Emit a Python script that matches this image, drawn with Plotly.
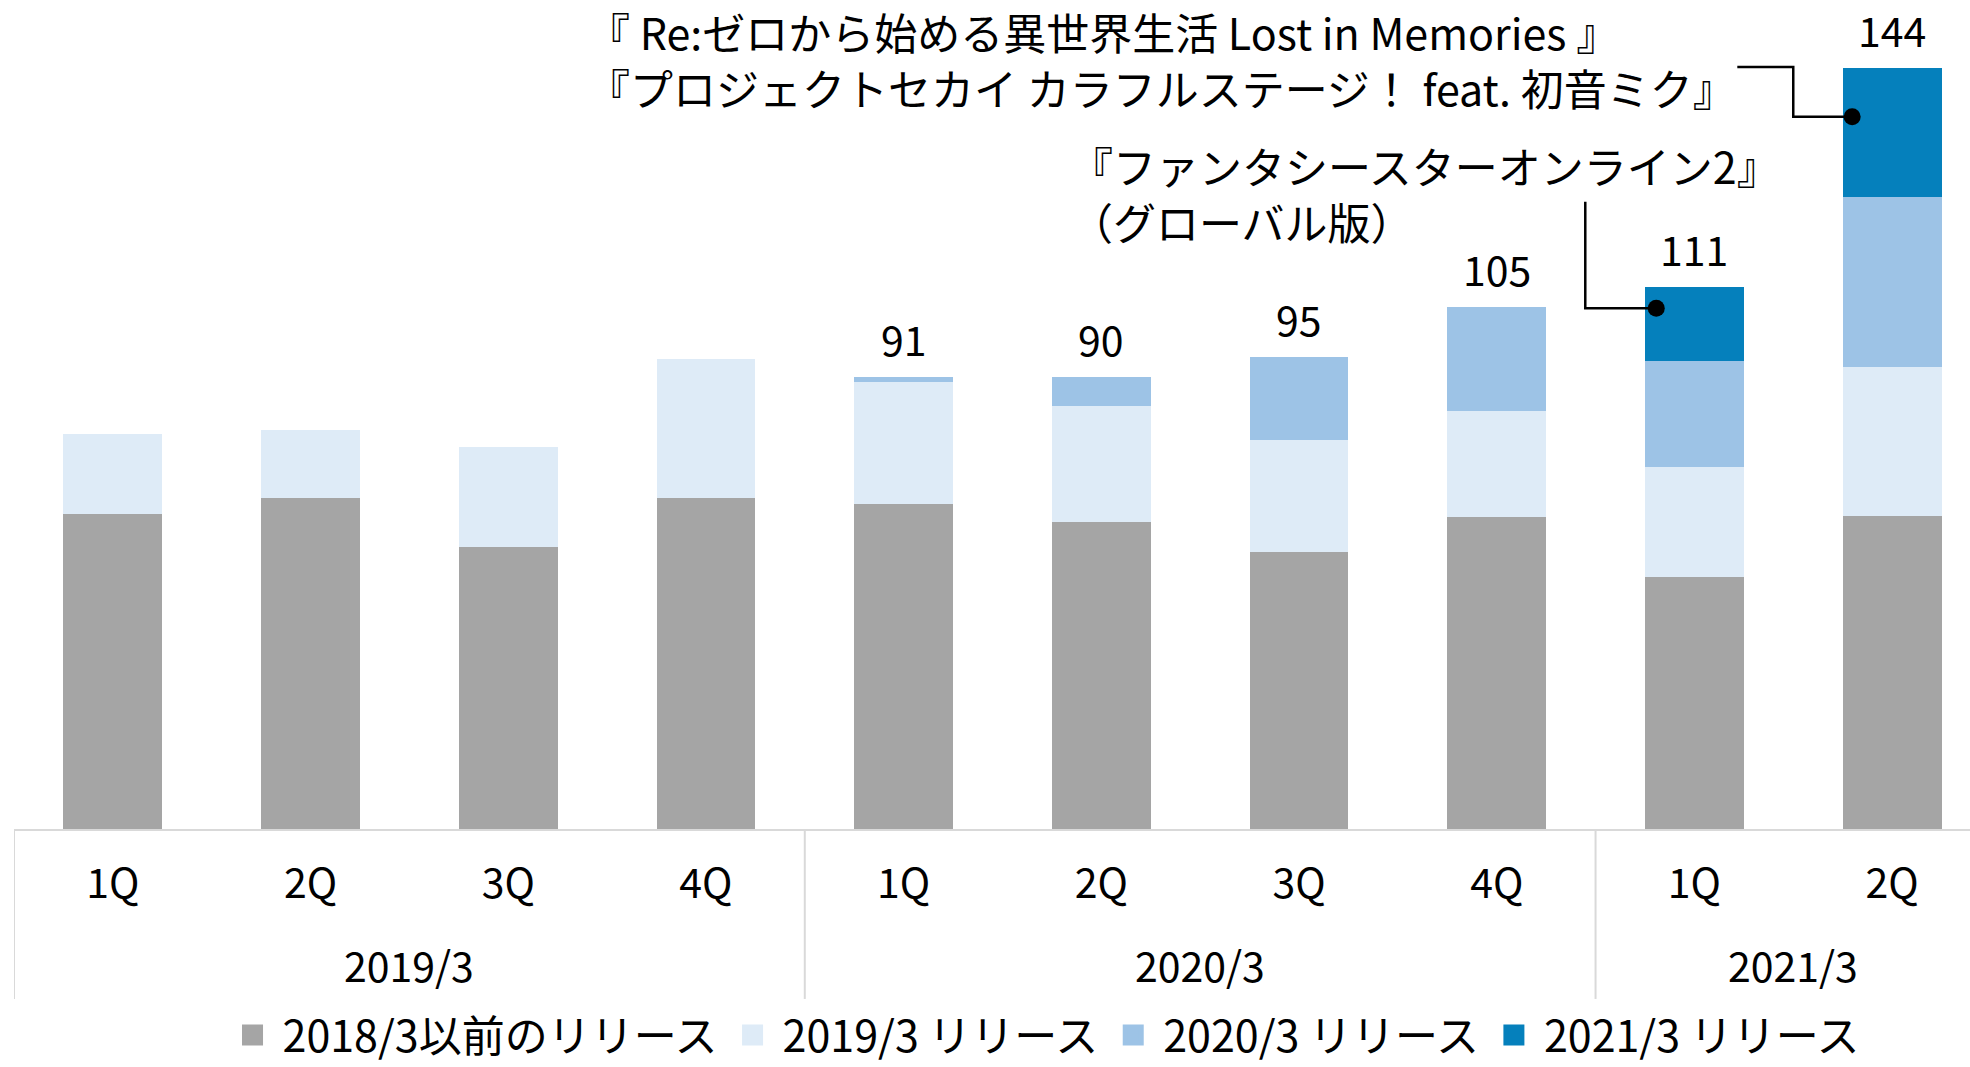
import plotly.graph_objects as go

# ---- data (units) ----
quarters = ["1Q", "2Q", "3Q", "4Q", "1Q", "2Q", "3Q", "4Q", "1Q", "2Q"]
fiscal_years = ["2019/3", "2020/3", "2021/3"]
fy_centers = [1.5, 5.5, 8.5]
fy_dividers = [-0.5, 3.5, 7.5]

series_names = ["2018/3以前のリリース", "2019/3 リリース", "2020/3 リリース", "2021/3 リリース"]
rel_2018 = [63.4, 66.6, 56.8, 66.7, 65.3, 61.7, 55.8, 62.7, 50.8, 62.9]
rel_2019 = [16.0, 13.7, 20.0, 27.9, 24.7, 23.4, 22.4, 21.5, 22.1, 30.1]
rel_2020 = [0, 0, 0, 0, 1.0, 5.9, 16.7, 20.8, 21.2, 34.2]
rel_2021 = [0, 0, 0, 0, 0, 0, 0, 0, 14.9, 26.0]
total_labels = ["", "", "", "", "91", "90", "95", "105", "111", "144"]

colors = ["#A5A5A5", "#DEEBF7", "#9DC3E6", "#0580BC"]

callout_a_text = "『 Re:ゼロから始める異世界生活 Lost in Memories 』<br>『プロジェクトセカイ カラフルステージ！ feat. 初音ミク』"
callout_a_x = [8.217, 8.5, 8.5, 8.798]
callout_a_y = [153.3, 153.3, 143.3, 143.3]
callout_b_text = "『ファンタシースターオンライン2』<br>（グローバル版）"
callout_b_x = [7.448, 7.448, 7.807]
callout_b_y = [126.2, 104.8, 104.8]

FONT = "Noto Sans CJK JP"
FS = 41

x_idx = list(range(len(quarters)))
series = [rel_2018, rel_2019, rel_2020, rel_2021]

fig = go.Figure()
for name, vals, col in zip(series_names, series, colors):
    fig.add_trace(go.Bar(x=x_idx, y=vals, name=name, marker=dict(color=col, line=dict(width=0)),
                         showlegend=False, hoverinfo="skip"))
# legend entries
for name, col in zip(series_names, colors):
    fig.add_trace(go.Scatter(x=[None], y=[None], mode="markers", name=name,
                             marker=dict(symbol="square", size=16, color=col,
                                         line=dict(color=col, width=5))))

# callout leader lines
for cx, cy in [(callout_a_x, callout_a_y), (callout_b_x, callout_b_y)]:
    fig.add_trace(go.Scatter(x=cx, y=cy, mode="lines", line=dict(color="black", width=2.5),
                             showlegend=False, hoverinfo="skip", cliponaxis=False))
    fig.add_trace(go.Scatter(x=[cx[-1]], y=[cy[-1]], mode="markers",
                             marker=dict(color="black", size=17), showlegend=False,
                             hoverinfo="skip", cliponaxis=False))

totals = [sum(v) for v in zip(*series)]
annotations = []
for i, (t, lab) in enumerate(zip(totals, total_labels)):
    if lab:
        annotations.append(dict(x=i, y=t, text=lab, showarrow=False, yanchor="middle",
                                yshift=39, font=dict(family=FONT, size=FS, color="black")))
for fy, c in zip(fiscal_years, fy_centers):
    annotations.append(dict(x=c, xref="x", y=-0.163, yref="paper", text=fy, showarrow=False,
                            yanchor="middle", font=dict(family=FONT, size=FS, color="black")))
annotations.append(dict(x=2.39, y=154.9, text=callout_a_text, showarrow=False, xanchor="left",
                        yanchor="middle", align="left", font=dict(family=FONT, size=43, color="black")))
annotations.append(dict(x=4.83, y=128.0, text=callout_b_text, showarrow=False, xanchor="left",
                        yanchor="middle", align="left", font=dict(family=FONT, size=43, color="black")))

shapes = [dict(type="line", xref="x", yref="paper", x0=d, x1=d, y0=0, y1=-0.205,
               line=dict(color="#D9D9D9", width=2)) for d in fy_dividers]

fig.update_layout(
    width=1970, height=1067,
    margin=dict(l=14, r=0, t=0, b=238, autoexpand=False),
    paper_bgcolor="white", plot_bgcolor="white",
    barmode="stack", bargap=0.5,
    font=dict(family=FONT, size=FS, color="black"),
    xaxis=dict(range=[-0.5, 9.394], tickmode="array", tickvals=x_idx, ticktext=quarters,
               showgrid=False, zeroline=False, showline=True, linecolor="#D9D9D9", linewidth=2,
               ticks="", ticklabelstandoff=18, tickfont=dict(family=FONT, size=FS, color="black"),
               fixedrange=True, automargin=False),
    yaxis=dict(range=[0, 166.8], visible=False, fixedrange=True),
    legend=dict(orientation="h", x=0.5266, xanchor="center", y=-0.2485, yanchor="middle",
                traceorder="normal", itemwidth=50,
                font=dict(family=FONT, size=43, color="black"), itemsizing="trace"),
    annotations=annotations,
    shapes=shapes,
    showlegend=True,
)

fig.write_html("out.html", config={"displayModeBar": False},
               post_script="document.body.style.margin='0';document.body.style.overflow='hidden';")
